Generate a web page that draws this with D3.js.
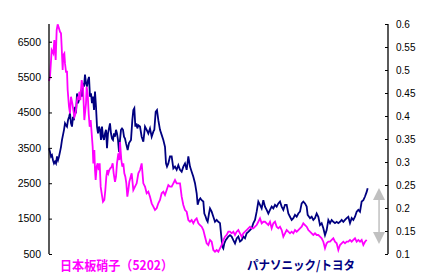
<!DOCTYPE html>
<html><head><meta charset="utf-8">
<script src="https://cdn.jsdelivr.net/npm/d3@7"></script>
<style>body{margin:0;background:#fff}svg{display:block}</style>
</head><body>
<script>
// ---- data ----
const leftTicks = [500,1500,2500,3500,4500,5500,6500];
const rightTicks = [0.1,0.15,0.2,0.25,0.3,0.35,0.4,0.45,0.5,0.55,0.6];
const rightTickLabels = ["0.1","0.15","0.2","0.25","0.3","0.35","0.4","0.45","0.5","0.55","0.6"];
const seriesNames = ["日本板硝子（5202）", "パナソニック/トヨタ"];

// 日本板硝子 price (left axis)
const nsgDaysA = [0,3,8,13,16,20,23,26,30,33,36,38,41,43,46,48,51,54,56,60,63,66,70,73,76,80,83,86,88,91,94,98,102,106,108,111,113,116,119,122,125,128,131,133,136,138,140,143,146,149,152,155,158,162,166,169,172,175,178,181,184,188,191,194,198,201,204,208,211,213,217,220,223,226,229,232,235,238,241];
const nsgValsA = [5387,5509,6263,6170,6546,5981,6828,6990,6876,6780,6735,6356,5698,6122,6170,5887,5650,5650,5133,4661,4475,4944,4757,4568,4379,4475,4757,4944,4850,5085,4850,5415,5226,4285,4475,4757,5226,5040,4475,4096,4285,3910,3531,3062,3438,2873,2590,2967,3062,2873,3062,2404,2215,1977,2026,2308,2684,2873,2780,2873,2920,2967,3062,2780,2542,2684,3062,3345,3156,3664,3156,2967,3062,2780,2684,2497,2119,2308,2542];
const nsgValsB = [2780,2308,2404,2497,2780,2873,3062,2497,2404,2215,
2260,2119,1932,1836,1743,1790,1932,2026,2215,2260,
2167,2308,2449,2404,2404,2497,2590,2497,2497,2497,
2119,1884,1743,1695,1460,1412,1460,1367,1460,1508,
1367,1319,1271,1178,989,802,754,896,847,613,
565,613,565,661,754,896,989,1037,1130,1130,
1085,1130,1037,1130,1178,1085,989,1085,1130,1178,
1226,1271,1226,1226,1271,1319,1412,1508,1367,1412,
1412,1367,1319,1412,1226,1367,1412,1271,1226,1271,
1178,989,1085,1178,1130,1085,1130,1085,1178,1130,
1178,1226,1271,1367,1319,1271,1178,1130,1085,1037,
1085,1037,1037,989,943,847,661,802,847,847,
896,943,847,802,613,754,802,847,802,847,
847,896,847,896,943,847,896,847,896,754,
847,896];
const nsgDaysB = d3.range(248, 248 + 5*nsgValsB.length, 5);

// パナソニック/トヨタ ratio (right axis)
const ratioValsA = [0.330,0.322,0.312,0.315,0.304,0.297,0.301,0.297,0.312,0.304,
0.312,0.322,0.333,0.348,0.359,0.370,0.384,0.380,0.377,0.391,
0.398,0.406,0.384,0.377,0.398,0.391,0.420,0.406,0.449,0.428,
0.435,0.442,0.457,0.442,0.471,0.464,0.490,0.471,0.464,0.478,
0.485,0.442,0.449,0.428,0.442,0.413,0.453,0.420,0.377,0.362,
0.377,0.370,0.348,0.377,0.355,0.348,0.362,0.370,0.330,0.362,
0.373,0.384,0.362,0.351,0.348,0.362,0.355,0.370,0.362,0.348,
0.322,0.348,0.370,0.373,0.370,0.355];
const ratioDaysA = d3.range(0, 3*ratioValsA.length, 3);
const ratioDaysB = [228,231,236,240,246,250,253,256,259,262,265,268,273,278,283,288,293,298,303,308,313,316,320,324,328,333,338,343,348,351,354,358,363,368,373,378,383,388,393,398,403,408,413,418,423,428,433,438,443,446,450,454,458,463,466,470,473,476,480,483,488,493,498,503,508,513,516,520,523,526,530,534,538,543,548,553,558,563,568,573,578,583,588,593,598,603,608,613,618,623,628,633,638,643,648,653,658,663,668,673,678,683,688,693,698,703,708,713,718,723,728,733,738,743,748,753,758,763,768,773,776,780,783,788,793,798,803,808,813,818,823,828,833,838,843,848,853,858,863,868,873,878,883,888,893,898,903,908,913,918,923,928,933,938,943,948,953,956];
const ratioValsB = [0.351,0.341,0.326,0.341,0.348,0.391,0.413,0.417,0.377,0.384,0.373,0.380,0.377,0.355,0.344,0.377,0.370,0.362,0.373,0.355,0.366,0.370,0.409,0.413,0.391,0.370,0.359,0.348,0.333,0.297,0.290,0.297,0.312,0.312,0.286,0.290,0.283,0.293,0.283,0.279,0.290,0.297,0.283,0.312,0.290,0.279,0.268,0.254,0.232,0.207,0.217,0.221,0.217,0.214,0.188,0.181,0.174,0.170,0.188,0.199,0.192,0.181,0.170,0.174,0.170,0.167,0.145,0.116,0.112,0.123,0.130,0.134,0.138,0.141,0.138,0.130,0.123,0.134,0.138,0.127,0.130,0.138,0.134,0.145,0.148,0.152,0.156,0.167,0.174,0.192,0.214,0.207,0.199,0.217,0.203,0.196,0.188,0.196,0.203,0.199,0.207,0.203,0.210,0.214,0.203,0.196,0.207,0.207,0.188,0.181,0.174,0.178,0.185,0.181,0.188,0.192,0.210,0.214,0.210,0.203,0.185,0.181,0.178,0.181,0.174,0.178,0.188,0.181,0.163,0.167,0.156,0.141,0.152,0.174,0.167,0.174,0.170,0.167,0.170,0.167,0.170,0.174,0.170,0.174,0.178,0.181,0.167,0.178,0.174,0.181,0.192,0.196,0.192,0.214,0.217,0.225,0.235,0.243];

// ---- chart ----
const W = 433, H = 278;
const svg = d3.select("body").append("svg").attr("width", W).attr("height", H)
  .style("font-family", "'Liberation Sans', Arial, sans-serif");

const x = d3.scaleLinear().domain([0, 960]).range([49, 369]);
const yL = d3.scaleLinear().domain([500, 7000]).range([254, 24]);
const yR = d3.scaleLinear().domain([0.1, 0.6]).range([254, 24]);

const nsg = nsgDaysA.map((d,i)=>[d, nsgValsA[i]]).concat(nsgDaysB.map((d,i)=>[d, nsgValsB[i]]));
const ratio = ratioDaysA.map((d,i)=>[d, ratioValsA[i]]).concat(ratioDaysB.map((d,i)=>[d, ratioValsB[i]]));

svg.append("path").datum(ratio)
  .attr("d", d3.line().x(d=>x(d[0])).y(d=>yR(d[1])))
  .attr("fill","none").attr("stroke","#000080").attr("stroke-width",1.8);
svg.append("path").datum(nsg)
  .attr("d", d3.line().x(d=>x(d[0])).y(d=>yL(d[1])))
  .attr("fill","none").attr("stroke","#ff00ff").attr("stroke-width",1.8);

// left axis
const axL = svg.append("g").attr("transform","translate(49,0)")
  .call(d3.axisRight(yL).tickValues(leftTicks).tickSize(3).tickFormat(d3.format("d")));
axL.select(".domain").attr("d", "M0," + yL(7000) + "V" + yL(500)).attr("stroke","#000").attr("stroke-width",1.3);
axL.selectAll(".tick line").attr("stroke","#000");
axL.selectAll(".tick text").attr("x", -8).attr("text-anchor","end")
  .style("font-size","10.5px").attr("fill","#000");

// right axis
const axR = svg.append("g").attr("transform","translate(388,0)")
  .call(d3.axisLeft(yR).tickValues(rightTicks).tickSize(3).tickFormat((d,i)=>rightTickLabels[i]));
axR.select(".domain").attr("d", "M0," + yR(0.6) + "V" + yR(0.1)).attr("stroke","#000").attr("stroke-width",1.3);
axR.selectAll(".tick line").attr("stroke","#000");
axR.selectAll(".tick text").attr("x", 8).attr("text-anchor","start")
  .style("font-size","10px").attr("fill","#000");

// gray double arrow
const ag = svg.append("g").attr("fill","#c0c0c0").attr("stroke","none");
ag.append("rect").attr("x", 378.3).attr("y", 198).attr("width", 1.5).attr("height", 36);
ag.append("path").attr("d","M379,188 L385,200 L373,200 Z");
ag.append("path").attr("d","M379,244 L385,232 L373,232 Z");

// series labels
svg.append("text").attr("x", 60).attr("y", 270).text(seriesNames[0])
  .attr("fill","#ff00ff").style("font-weight","bold").style("font-size","13px")
  .style("font-family","'Noto Sans CJK JP', sans-serif")
  .attr("textLength", 113).attr("lengthAdjust","spacingAndGlyphs");
svg.append("text").attr("x", 247).attr("y", 270).text(seriesNames[1])
  .attr("fill","#000080").style("font-weight","bold").style("font-size","12.5px")
  .style("font-family","'Noto Sans CJK JP', sans-serif")
  .attr("textLength", 108).attr("lengthAdjust","spacingAndGlyphs");
</script>
</body></html>
